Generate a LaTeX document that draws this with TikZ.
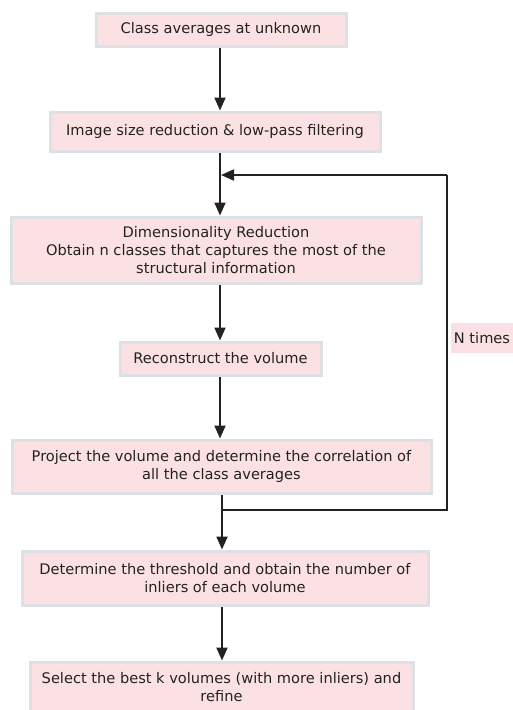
\documentclass[tikz,border=0pt]{standalone}
\usepackage{fontspec}
\setmainfont{DejaVu Sans}
\usetikzlibrary{arrows.meta,calc}
\definecolor{boxpink}{HTML}{FCE1E4}
\definecolor{boxgray}{HTML}{DEE1E3}
\definecolor{inkgray}{HTML}{222222}
\tikzset{
  stepbox/.style={draw=boxgray, line width=3pt, fill=boxpink, inner sep=0pt, align=center,
    font=\fontsize{14.6}{18.4}\selectfont, text=inkgray},
  arr/.style={draw=inkgray, line width=2pt, -{Triangle[length=13pt,width=11pt]}},
  ln/.style={draw=inkgray, line width=2pt},
}
\begin{document}
\begin{tikzpicture}[x=1pt,y=-1pt]
\useasboundingbox (0,0) rectangle (513,710);
\fill[white] (0,0) rectangle (513,710);
\coordinate (sp) at (220,0);
\node[stepbox, minimum width=250pt, minimum height=33pt] (b1) at (221,29.5) {Class averages at unknown};
\node[stepbox, minimum width=330pt, minimum height=39pt] (b2) at (215,131.5) {Image size reduction \& low-pass filtering};
\node[stepbox, minimum width=410pt, minimum height=66pt] (b3) at (216,250) {Dimensionality Reduction\\Obtain n classes that captures the most of the\\structural information};
\node[stepbox, minimum width=201pt, minimum height=33pt] (b4) at (220.5,358.5) {Reconstruct the volume};
\node[stepbox, minimum width=419pt, minimum height=53pt] (b5) at (221.5,466.5) {Project the volume and determine the correlation of\\all the class averages};
\node[stepbox, minimum width=406pt, minimum height=54pt] (b6) at (225,578) {Determine the threshold and obtain the number of\\inliers of each volume};
\node[stepbox, minimum width=383pt, minimum height=50pt] (b7) at (221.5,687) {Select the best k volumes (with more inliers) and\\refine};
\node[stepbox, draw=none, fill=boxpink, minimum width=63pt, minimum height=30pt] (nt) at (482,338) {N times};
\coordinate (j) at (222,510);
\coordinate (r1) at (447,510);
\coordinate (r2) at (447,175);
\coordinate (m) at (221,175);
\draw[arr] (b1.south -| sp) -- (b2.north -| sp);
\draw[arr] (b2.south -| sp) -- (b3.north -| sp);
\draw[arr] (b3.south -| sp) -- (b4.north -| sp);
\draw[arr] (b4.south -| sp) -- (b5.north -| sp);
\draw[arr] (b5.south -| j) -- (b6.north -| j);
\draw[arr] (b6.south -| j) -- (b7.north -| j);
\draw[ln] (j) -- (r1) -- (r2);
\draw[arr] (r2) -- (m);
\end{tikzpicture}
\end{document}
